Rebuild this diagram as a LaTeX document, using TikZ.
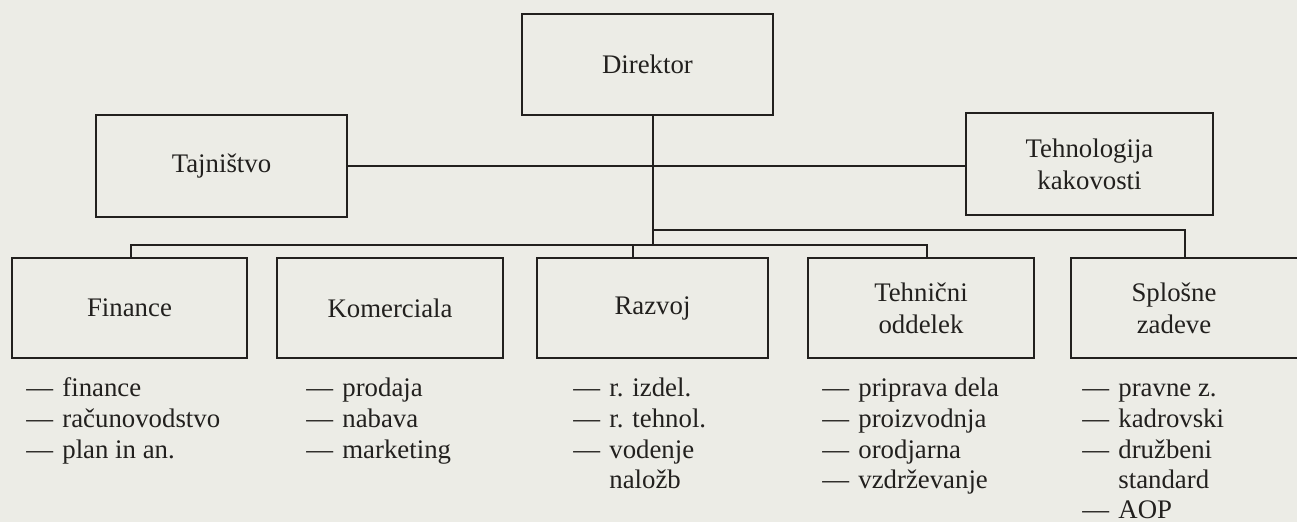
\documentclass[tikz,border=0pt]{standalone}
\usepackage{fontspec}
\setmainfont{Liberation Serif}
\definecolor{paper}{RGB}{236,236,230}
\definecolor{ink}{RGB}{34,32,30}
\newcommand{\dd}{\makebox[18pt][l]{—}}
\begin{document}
\begin{tikzpicture}[x=0.5pt,y=-0.5pt,
  every node/.style={text=ink,font=\fontsize{13.4}{16}\selectfont},
  unit/.style={draw=ink,line width=1.1pt,inner sep=0pt,minimum height=50pt,align=center},
  link/.style={draw=ink,line width=1pt},
  item/.style={anchor=base west,inner sep=0pt}]
\fill[paper] (0,0) rectangle (1297,522);
\useasboundingbox (0,0) rectangle (1297,522);
% top level
\node[unit,minimum width=125.5pt,minimum height=50.5pt] (direktor) at (647.5,64.5) {Direktor};
\node[unit,minimum width=125.5pt,minimum height=51pt] (tajnistvo) at (221.5,166) {Tajništvo};
\node[unit,minimum width=123.5pt,minimum height=51pt] (tehnologija) at (1089.5,164) {Tehnologija\\kakovosti};
% departments
\node[unit,minimum width=117.5pt] (finance) at (129.5,308) {Finance};
\node[unit,minimum width=113pt] (komerciala) at (390,308) {Komerciala};
\node[unit,minimum width=115.5pt] (razvoj) at (652.5,308) {Razvoj};
\node[unit,minimum width=113pt] (tehnicni) at (921,308) {Tehnični\\oddelek};
\node[unit,minimum width=117pt] (splosne) at (1188,308) {};
\node[align=center] (splosnetxt) at (1174,308) {Splošne\\zadeve};
% connectors
\coordinate (t1) at (653,245);
\coordinate (t2) at (653,230);
\coordinate (j1) at (1185,230);
\coordinate (l1) at (131,245);
\coordinate (l2) at (927,245);
\coordinate (l3) at (633,245);
\draw[link] (direktor.south -| t1) -- (t1);
\draw[link] (tajnistvo.east) -- (tajnistvo.east -| tehnologija.west);
\draw[link] (t2) -- (j1) -- (splosne.north -| j1);
\draw[link] (finance.north -| l1) -- (l1) -- (l2) -- (tehnicni.north -| l2);
\draw[link] (l3) -- (razvoj.north -| l3);
% lists
\node[item] (f1) at (26,397) {\dd finance};
\node[item] (f2) at (26,428) {\dd računovodstvo};
\node[item] (f3) at (26,458.5) {\dd plan in an.};
\node[item] (k1) at (306,397) {\dd prodaja};
\node[item] (k2) at (306,428) {\dd nabava};
\node[item] (k3) at (306,458.5) {\dd marketing};
\node[item] (r1) at (573,397) {\dd r. izdel.};
\node[item] (r2) at (573,428) {\dd r. tehnol.};
\node[item] (r3) at (573,458.5) {\dd vodenje};
\node[item] (r4) at (573,489) {\hphantom{\dd}naložb};
\node[item] (o1) at (822,397) {\dd priprava dela};
\node[item] (o2) at (822,428) {\dd proizvodnja};
\node[item] (o3) at (822,458.5) {\dd orodjarna};
\node[item] (o4) at (822,489) {\dd vzdrževanje};
\node[item] (s1) at (1082,397) {\dd pravne z.};
\node[item] (s2) at (1082,428) {\dd kadrovski};
\node[item] (s3) at (1082,458.5) {\dd družbeni};
\node[item] (s4) at (1082,489) {\hphantom{\dd}standard};
\node[item] (s5) at (1082,518.5) {\dd AOP};
\end{tikzpicture}
\end{document}
